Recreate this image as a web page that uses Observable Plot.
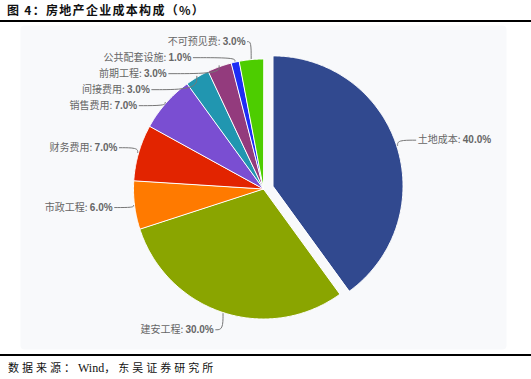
<!DOCTYPE html>
<html><head><meta charset="utf-8">
<script src="https://cdn.jsdelivr.net/npm/d3@7"></script>
<script src="https://cdn.jsdelivr.net/npm/@observablehq/plot@0.6"></script>
<style>
body{margin:0;background:#fff;}
#wrap{position:relative;width:531px;height:379px;overflow:hidden;font-family:"Noto Sans CJK SC",sans-serif;}
#title{position:absolute;left:7px;top:2px;font-size:12px;line-height:16px;font-weight:bold;letter-spacing:1.3px;color:#111;}
.rule{position:absolute;left:0;width:531px;height:2px;background:#000;}
#chart{position:absolute;left:0;top:22px;}
#caption{position:absolute;left:8px;top:359px;font-size:11px;line-height:16px;letter-spacing:3px;color:#111;}
#caption .en{font-family:"Liberation Serif",serif;font-size:12px;letter-spacing:0;}
</style></head><body>
<div id="wrap">
<div id="title">图 4：房地产企业成本构成（%）</div>
<div class="rule" style="top:20px"></div>
<div id="chart"></div>
<div class="rule" style="top:354px"></div>
<div id="caption">数据来源：<span class="en">Wind</span>，东吴证券研究所</div>
</div>
<script>
const categories = ["土地成本","建安工程","市政工程","财务费用","销售费用","间接费用","前期工程","公共配套设施","不可预见费"];
const values = [40, 30, 6, 7, 7, 3, 3, 1, 3];
const colors = ["#31498f","#8aa500","#ff7a00","#e22400","#7a4ed2","#2196b0","#933b7d","#1e2cf5","#4dcd00"];
const explodedCategories = ["土地成本"];

const W = 531, H = 333;
const cx = 263, cy = 166.5, R = 130, explodeDist = 10, labelR = 148, spacing = 16, pad = 4;
const labelTop = 19, labelBottom = 309;
const nameFont = '10px "Noto Sans CJK SC"', valueFont = 'bold 10px "Liberation Sans"';

const data = categories.map((name, i) => ({name, value: values[i]}));
const arcs = d3.pie().sort(null).value(d => d.value)(data);

const slicePts = [], labels = [], connectors = [];
arcs.forEach(a => {
  const mid = (a.startAngle + a.endAngle) / 2;
  const ex = explodedCategories.includes(a.data.name) ? explodeDist : 0;
  const c = {x: cx + Math.sin(mid) * ex, y: cy - Math.cos(mid) * ex};
  slicePts.push({name: a.data.name, x: c.x, y: c.y});
  const n = Math.max(2, Math.ceil((a.endAngle - a.startAngle) / 0.01));
  for (let k = 0; k <= n; k++) {
    const t = a.startAngle + (a.endAngle - a.startAngle) * k / n;
    slicePts.push({name: a.data.name, x: c.x + Math.sin(t) * R, y: c.y - Math.cos(t) * R});
  }
  labels.push({name: a.data.name, value: a.data.value, mid, c,
    left: Math.sin(mid) < 0, y: c.y - Math.cos(mid) * labelR});
});

// spread left labels downward
const left = labels.filter(d => d.left).sort((a, b) => a.y - b.y);
let prev = -Infinity;
for (const d of left) { d.y = Math.min(labelBottom, Math.max(d.y, labelTop, prev + spacing)); prev = d.y; }

const ctx = document.createElement("canvas").getContext("2d");
const measure = (s, f) => { ctx.font = f; return ctx.measureText(s).width; };

const nameTexts = [], valueTexts = [];
labels.forEach(d => {
  const dy = d.y - d.c.y;
  const dx = Math.sqrt(Math.max(0, labelR * labelR - dy * dy));
  const sgn = d.left ? -1 : 1;
  const anchorX = d.c.x + sgn * dx;
  const textX = anchorX + sgn * pad;
  const nameStr = d.name + ": ", valStr = d.value.toFixed(1) + "%";
  const nw = measure(nameStr, nameFont), vw = measure(valStr, valueFont);
  const startX = d.left ? textX - nw - vw : textX;
  nameTexts.push({x: startX, y: d.y, text: nameStr});
  valueTexts.push({x: startX + nw, y: d.y, text: valStr});
  const p0 = {x: textX - sgn * 2, y: d.y};
  const p2 = {x: d.c.x + Math.sin(d.mid) * (R + 1), y: d.c.y - Math.cos(d.mid) * (R + 1)};
  const p1 = {x: p2.x, y: d.y};
  connectors.push({name: d.name, ...p0}, {name: d.name, ...p1}, {name: d.name, ...p2});
});

const chart = Plot.plot({
  width: W, height: H,
  marginLeft: 20, marginRight: 25, marginTop: 3, marginBottom: 6,
  x: {domain: [20, 506], axis: null},
  y: {domain: [327, 3], axis: null},
  color: {domain: categories, range: colors},
  style: {background: "transparent", overflow: "visible"},
  marks: [
    Plot.frame({fill: "#f8f9fb", stroke: null, rx: 4}),
    Plot.line(slicePts, {x: "x", y: "y", z: "name", fill: "name", stroke: "white", strokeWidth: 1, curve: "linear-closed"}),
    Plot.line(connectors, {x: "x", y: "y", z: "name", stroke: "#777", strokeWidth: 1, curve: "basis"}),
    Plot.text(nameTexts, {x: "x", y: "y", text: "text", textAnchor: "start", fill: "#666", fontSize: 10, fontFamily: "Noto Sans CJK SC"}),
    Plot.text(valueTexts, {x: "x", y: "y", text: "text", textAnchor: "start", fill: "#666", fontSize: 10, fontWeight: "bold", fontFamily: "Liberation Sans"})
  ]
});
document.getElementById("chart").appendChild(chart);
</script>
</body></html>
